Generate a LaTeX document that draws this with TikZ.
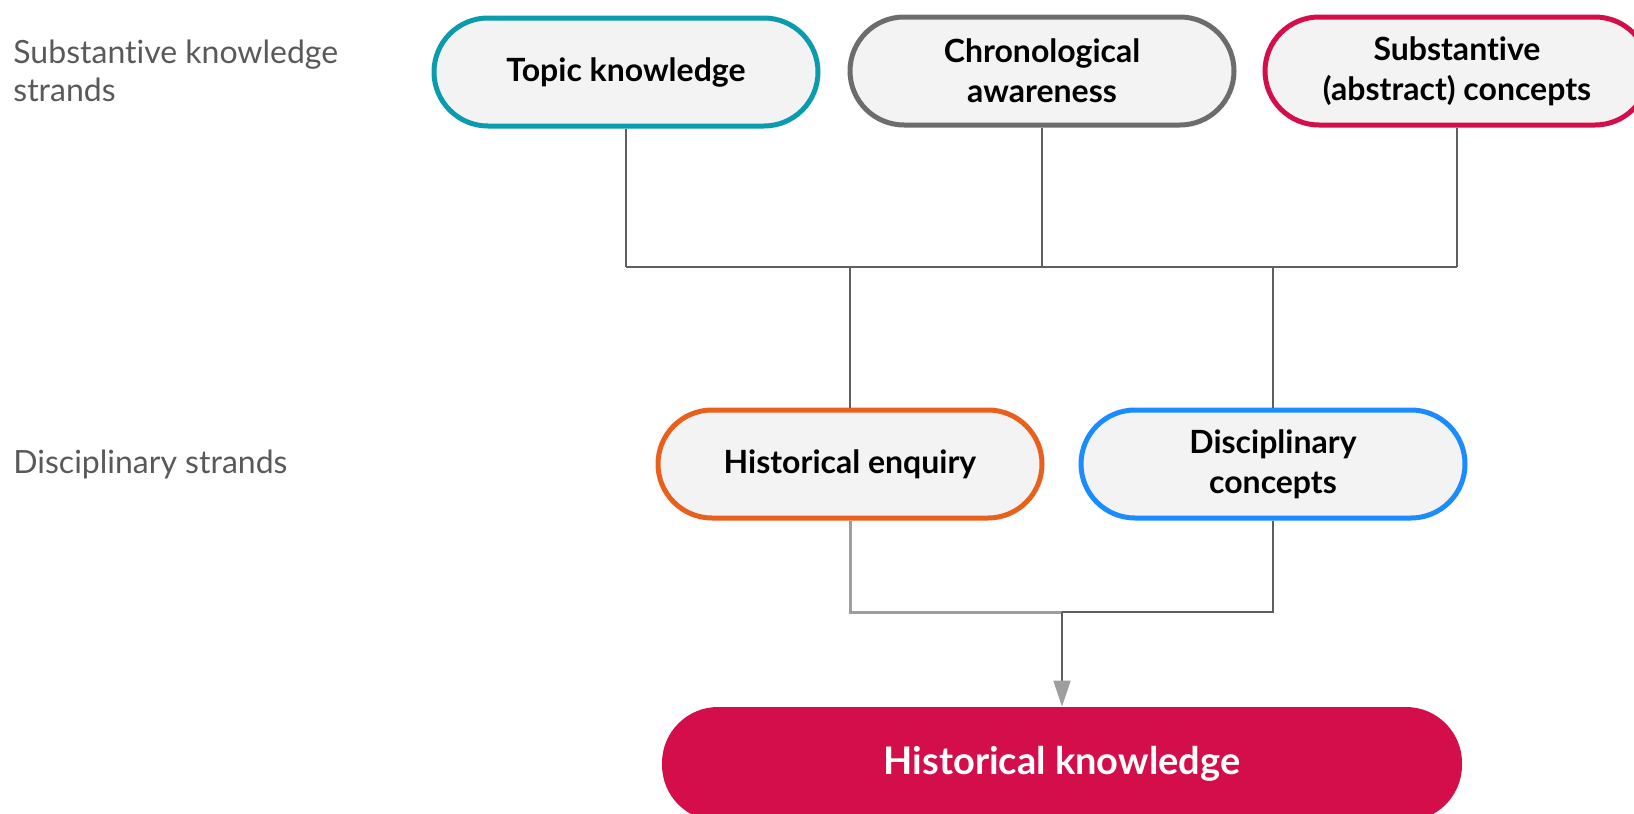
\documentclass[tikz,border=0pt]{standalone}
\usepackage{fontspec}
\setmainfont{Lato}[Ligatures=NoCommon]
\usetikzlibrary{arrows.meta}
\definecolor{boxfill}{HTML}{F3F3F3}
\definecolor{teal1}{HTML}{0A9BAF}
\definecolor{grey1}{HTML}{6E6B6B}
\definecolor{crimson}{HTML}{D40E4B}
\definecolor{orange1}{HTML}{E9601C}
\definecolor{blue1}{HTML}{1A8CFF}
\definecolor{linegrey}{HTML}{5F5F5F}
\definecolor{lightgrey}{HTML}{9E9E9E}
\definecolor{labelgrey}{HTML}{595959}
\begin{document}
\begin{tikzpicture}[x=0.5pt,y=-0.5pt,
    strand/.style={draw=#1,line width=2.5pt,fill=boxfill,rounded corners=27pt,
        minimum width=192pt,minimum height=54pt,align=center,inner sep=0pt,
        font=\fontsize{16}{20}\selectfont\bfseries},
    sidelabel/.style={anchor=west,align=left,text=labelgrey,inner sep=0pt,
        font=\fontsize{16}{19}\selectfont},
    link/.style={draw=linegrey,line width=1pt},
    lightlink/.style={draw=lightgrey,line width=1.5pt}]
    \useasboundingbox (0,0) rectangle (1634,814);

    \node[sidelabel](lsub)at(13,71){Substantive knowledge\\strands};
    \node[sidelabel](ldis)at(13,464){Disciplinary strands};

    \node[strand=teal1](topic)at(626,72){Topic knowledge};
    \node[strand=grey1](chron)at(1042,71){Chronological\\awareness};
    \node[strand=crimson](subst)at(1457,71){Substantive\\(abstract) concepts};

    \node[strand=orange1](enq)at(850,464){Historical enquiry};
    \node[strand=blue1](disc)at(1273,464){Disciplinary\\concepts};

    \node[fill=crimson,rounded corners=28pt,minimum width=400pt,minimum height=57pt,
        text=white,font=\fontsize{19}{23}\selectfont\bfseries](know)at(1062,764){Historical knowledge};

    \coordinate(bar1)at(0,267);
    \coordinate(bar2)at(0,612);
    \foreach \n in {topic,chron,subst} \draw[link](\n.south)--(\n.south|-bar1);
    \draw[link](topic.south|-bar1)--(subst.south|-bar1);
    \draw[link](enq.north)--(enq.north|-bar1)--(disc.north|-bar1)--(disc.north);

    \draw[lightlink](enq.south)|-(know.north|-bar2);
    \draw[link](disc.south)|-(know.north|-bar2);
    \draw[link,-{Triangle[length=13pt,width=8.5pt,fill=lightgrey,color=lightgrey]}](know.north|-bar2)--(know.north);
\end{tikzpicture}
\end{document}
